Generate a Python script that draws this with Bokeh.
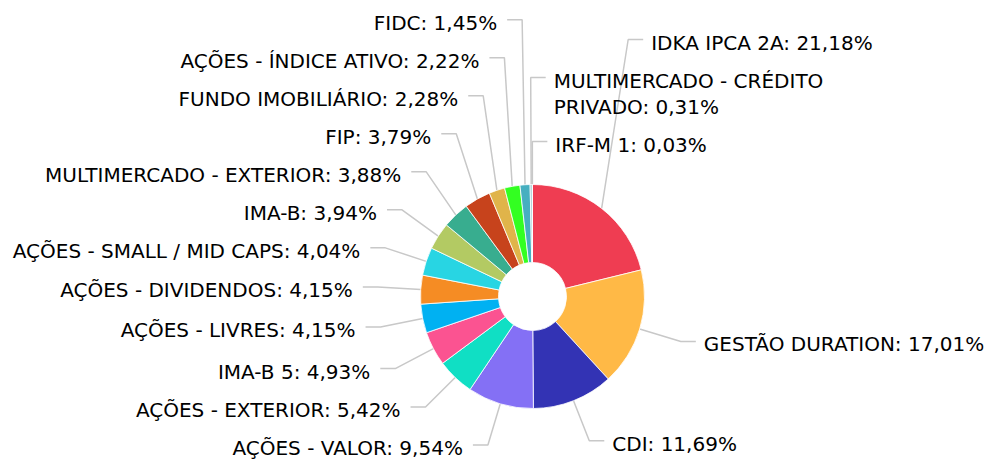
import math
import textwrap
from bokeh.plotting import figure
from bokeh.models import Range1d, ColumnDataSource
from bokeh.embed import file_html
from bokeh.resources import INLINE
from bokeh.core.properties import value

# ---------------- data ----------------
categories = [
    "IDKA IPCA 2A", "GESTÃO DURATION", "CDI", "AÇÕES - VALOR", "AÇÕES - EXTERIOR",
    "IMA-B 5", "AÇÕES - LIVRES", "AÇÕES - DIVIDENDOS", "AÇÕES - SMALL / MID CAPS",
    "IMA-B", "MULTIMERCADO - EXTERIOR", "FIP", "FUNDO IMOBILIÁRIO",
    "AÇÕES - ÍNDICE ATIVO", "FIDC", "MULTIMERCADO - CRÉDITO PRIVADO", "IRF-M 1",
]
shares = [21.18, 17.01, 11.69, 9.54, 5.42, 4.93, 4.15, 4.15, 4.04,
          3.94, 3.88, 3.79, 2.28, 2.22, 1.45, 0.31, 0.03]
colors = [
    "#EF3D52", "#FFB946", "#3333B4", "#8470F5", "#10DFC4", "#FB5391",
    "#00B1F2", "#F58C24", "#28D5E3", "#B3CA63", "#38AD8F", "#C7431C",
    "#E0B44A", "#33FF21", "#46AFC0", "#9CC6CE", "#D8D8D8",
]
# label stacking on the right side (top -> bottom); all others go left
right_stack = ["IDKA IPCA 2A", "MULTIMERCADO - CRÉDITO PRIVADO", "IRF-M 1",
               "GESTÃO DURATION", "CDI"]

# ---------------- layout ----------------
W, H = 989, 464
ORIGIN = 0                   # page offset of the figure
CX, CY = 532, 296            # pie centre in page pixels
R_OUT, R_IN = 112, 34
R_LABEL = 155                # radius of connector break
HSEG = 15                    # horizontal connector segment
PAD_R, PAD_L = 8, 10
LINE_H = 26
GAP = 12
FONT_SIZE = "20px"
WRAP_RIGHT = 24

total = sum(shares)
labels = []
cum = 0.0
for cat, s in zip(categories, shares):
    mid = (cum + s / 2) / total * 2 * math.pi     # clockwise from top
    cum += s
    txt = f"{cat}: {s:.2f}%".replace(".", ",")
    side = "right" if cat in right_stack else "left"
    lines = textwrap.wrap(txt, WRAP_RIGHT) if side == "right" else [txt]
    labels.append(dict(
        cat=cat, side=side, lines=lines,
        ex=math.sin(mid) * R_OUT, ey=math.cos(mid) * R_OUT,
        bx=math.sin(mid) * R_LABEL,
        ny=CY - math.cos(mid) * R_LABEL,          # natural screen y
    ))

def arrange(items):
    # items ordered top -> bottom; push up from the bottom
    for i in range(len(items) - 1, -1, -1):
        it = items[i]
        y = it["ny"]
        if i < len(items) - 1:
            y = min(y, items[i + 1]["sy"] - LINE_H * len(it["lines"]) - GAP)
        it["sy"] = y

right = sorted([l for l in labels if l["side"] == "right"],
               key=lambda l: right_stack.index(l["cat"]))
left = sorted([l for l in labels if l["side"] == "left"], key=lambda l: l["ny"])
arrange(right)
arrange(left)

# ---------------- figure ----------------
p = figure(width=W, height=H, output_backend="svg", toolbar_location=None,
           x_range=Range1d(ORIGIN - CX, ORIGIN + W - CX),
           y_range=Range1d(CY - ORIGIN - H, CY - ORIGIN),
           min_border=0)
p.axis.visible = False
p.grid.visible = False
p.outline_line_color = None
p.background_fill_color = "white"
p.border_fill_color = "white"

# connectors
xs, ys = [], []
for l in labels:
    by = CY - l["sy"]
    hx = l["bx"] + (HSEG if l["side"] == "right" else -HSEG)
    xs.append([l["ex"], l["bx"], hx])
    ys.append([l["ey"], by, by])
p.multi_line(xs, ys, line_color="#C8C8C8", line_width=1.5)

# slices
starts, ends = [], []
c = 0.0
for s in shares:
    a0 = math.pi / 2 - 2 * math.pi * c / total
    c += s
    a1 = math.pi / 2 - 2 * math.pi * c / total
    starts.append(a1)
    ends.append(a0)
src = ColumnDataSource(dict(start=starts, end=ends, color=colors))
p.annular_wedge(x=0, y=0, inner_radius=R_IN, outer_radius=R_OUT,
                start_angle="start", end_angle="end", direction="anticlock",
                fill_color="color", line_color="white", line_width=0.8, source=src)

# labels
for side, align in (("right", "left"), ("left", "right")):
    tx, ty, tt = [], [], []
    for l in labels:
        if l["side"] != side:
            continue
        x = l["bx"] + (HSEG + PAD_R if side == "right" else -HSEG - PAD_L)
        for k, line in enumerate(l["lines"]):
            tx.append(x)
            ty.append(CY - (l["sy"] + 3 + LINE_H * k))
            tt.append(line)
    p.text(tx, ty, text=tt, text_align=align, text_baseline="middle",
           text_font=value("DejaVu Sans"), text_font_size=FONT_SIZE,
           text_color="#000000")

open("out.html", "w").write(file_html(p, INLINE))
